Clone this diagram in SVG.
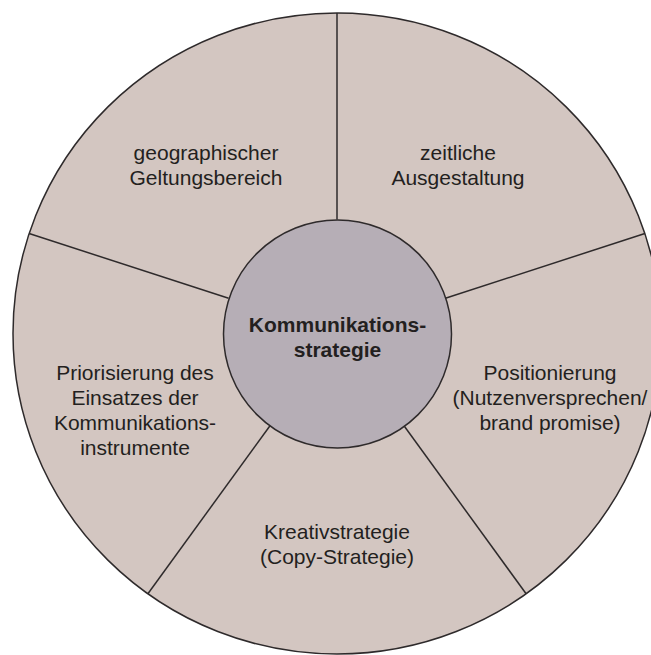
<svg xmlns="http://www.w3.org/2000/svg" width="651" height="655" viewBox="0 0 651 655">
  <style>
    .disc { fill: #d3c6c1; stroke: #2e2a2b; stroke-width: 1.5; }
    .core { fill: #b6aeb6; stroke: #2e2a2b; stroke-width: 1.5; }
    .divider { stroke: #2e2a2b; stroke-width: 1.5; fill: none; }
    .label { font-family: "Liberation Sans", Arial, sans-serif; font-size: 21px; fill: #231f20; text-anchor: middle; }
    .title { font-family: "Liberation Sans", Arial, sans-serif; font-size: 21px; font-weight: bold; fill: #231f20; text-anchor: middle; }
  </style>

  <!-- outer disc carrying the five segments -->
  <g id="disc">
    <ellipse class="disc" cx="337" cy="333.5" rx="324" ry="320.5"/>
  </g>

  <!-- dividing lines between the segments -->
  <g id="connectors">
    <line class="divider" x1="337" y1="219.5" x2="337" y2="13"/>
    <line class="divider" x1="445.4" y1="298.3" x2="644.9" y2="233.5"/>
    <line class="divider" x1="404" y1="425.7" x2="526.1" y2="593.8"/>
    <line class="divider" x1="270" y1="425.7" x2="147.9" y2="593.8"/>
    <line class="divider" x1="228.6" y1="298.3" x2="29.1" y2="233.5"/>
  </g>

  <g id="segment-geo">
    <text class="label" x="206" y="160">geographischer</text>
    <text class="label" x="206" y="185">Geltungsbereich</text>
  </g>

  <g id="segment-time">
    <text class="label" x="458" y="160">zeitliche</text>
    <text class="label" x="458" y="185">Ausgestaltung</text>
  </g>

  <g id="segment-position">
    <text class="label" x="550" y="380">Positionierung</text>
    <text class="label" x="550" y="405">(Nutzenversprechen/</text>
    <text class="label" x="550" y="430">brand promise)</text>
  </g>

  <g id="segment-creative">
    <text class="label" x="337" y="539">Kreativstrategie</text>
    <text class="label" x="337" y="564">(Copy-Strategie)</text>
  </g>

  <g id="segment-priority">
    <text class="label" x="135" y="380">Priorisierung des</text>
    <text class="label" x="135" y="405">Einsatzes der</text>
    <text class="label" x="135" y="430">Kommunikations-</text>
    <text class="label" x="135" y="455">instrumente</text>
  </g>

  <!-- central node -->
  <g id="center">
    <circle class="core" cx="337.5" cy="334" r="114"/>
    <text class="title" x="337.5" y="332">Kommunikations-</text>
    <text class="title" x="337.5" y="357">strategie</text>
  </g>
</svg>
